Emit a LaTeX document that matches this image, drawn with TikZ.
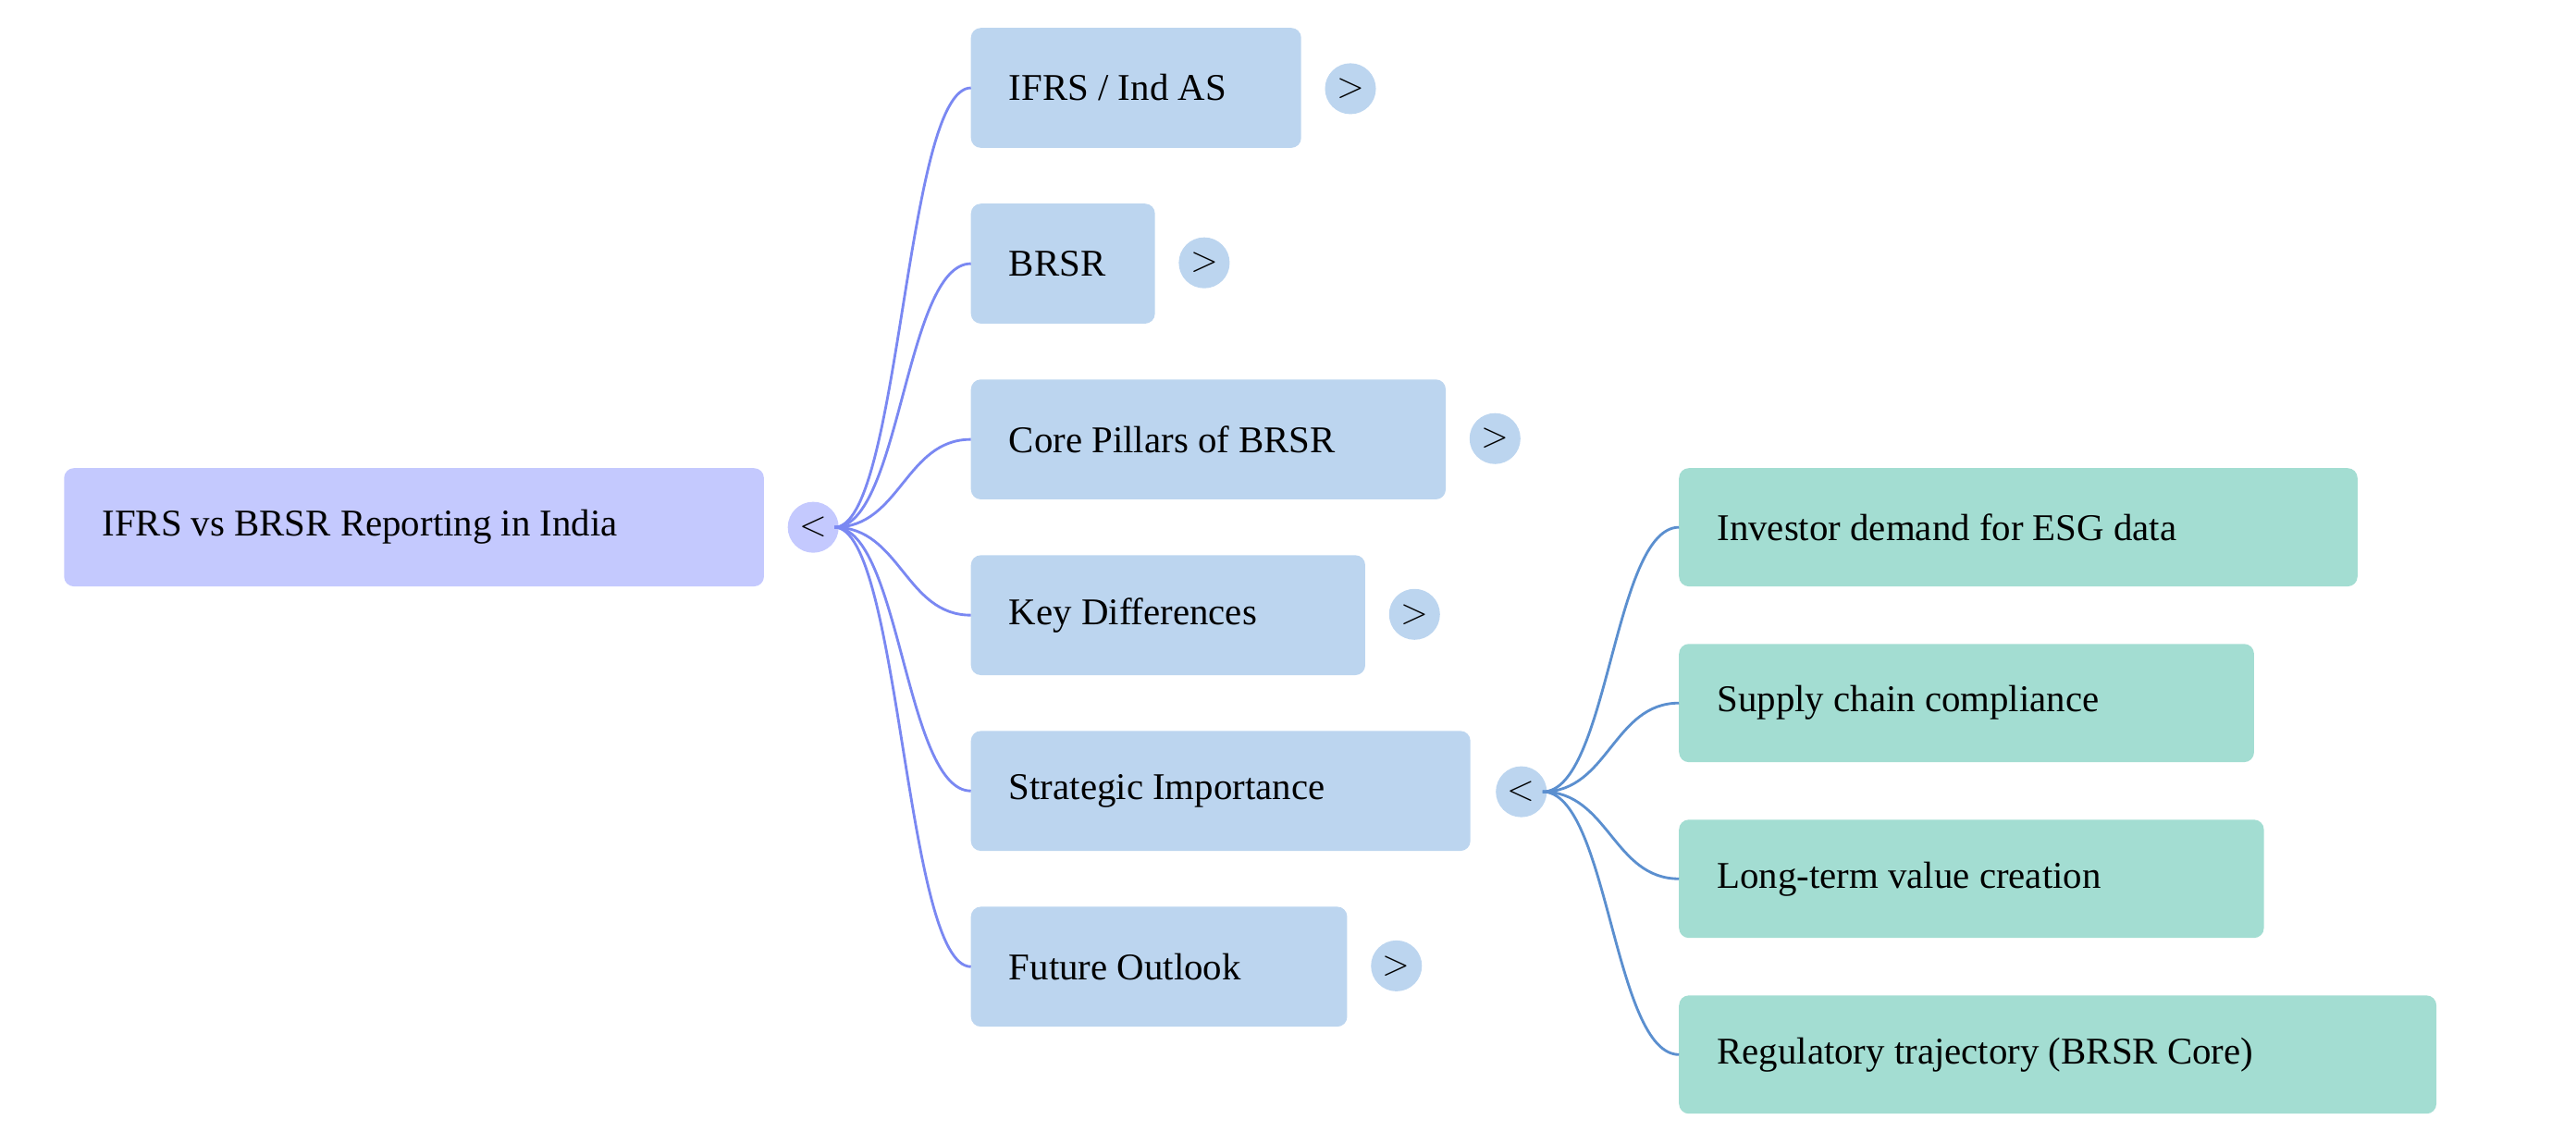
\documentclass[tikz,border=0pt]{standalone}
\usepackage{fontspec}
\setmainfont{Liberation Serif}
\definecolor{rootc}{HTML}{C4C9FE}
\definecolor{lonec}{HTML}{BCD5EF}
\definecolor{ltwoc}{HTML}{A3DDD2}
\definecolor{edgea}{HTML}{7A88F2}
\definecolor{edgeb}{HTML}{5B8FCF}
\tikzset{
  box/.style={rounded corners=6pt, inner sep=0pt, anchor=north west},
  lbl/.style={anchor=west, font=\fontsize{23}{26}\selectfont, inner sep=0pt},
  tog/.style={circle, minimum size=31pt, inner sep=0pt, font=\fontsize{22}{24}\selectfont\sffamily},
  conA/.style={edgea, line width=1.6pt},
  conB/.style={edgeb, line width=1.6pt}
}
\newcommand{\mybox}[7]{% name, x1,y1,x2,y2, color, text
  \fill[#6, rounded corners=6pt] (#2,#3) rectangle (#4,#5);
  \node[lbl] (#1) at (#2+23,{(#3+#5)/2}) {#7};
  \coordinate (#1L) at (#2,{(#3+#5)/2});
}
\begin{document}
\begin{tikzpicture}[x=1pt,y=-1pt]
\useasboundingbox (0,0) rectangle (1568,696);
% root
\mybox{root}{39}{285}{465}{357}{rootc}{IFRS vs BRSR Reporting in India}
\node[tog, fill=rootc] (rt) at (495,321) {<};
\coordinate (rto) at (508,321);
% level 1
\mybox{a}{591}{17}{792}{90}{lonec}{IFRS / Ind AS}
\mybox{b}{591}{124}{703}{197}{lonec}{BRSR}
\mybox{c}{591}{231}{880}{304}{lonec}{Core Pillars of BRSR}
\mybox{d}{591}{338}{831}{411}{lonec}{Key Differences}
\mybox{e}{591}{445}{895}{518}{lonec}{Strategic Importance}
\mybox{f}{591}{552}{820}{625}{lonec}{Future Outlook}
\node[tog, fill=lonec] (at) at (822,54) {>};
\node[tog, fill=lonec] (bt) at (733,160) {>};
\node[tog, fill=lonec] (ct) at (910,267) {>};
\node[tog, fill=lonec] (dt) at (861,374) {>};
\node[tog, fill=lonec] (et) at (926,482) {<};
\node[tog, fill=lonec] (ft) at (850,588) {>};
\coordinate (eto) at (939,482);
% level 2
\mybox{g}{1022}{285}{1435}{357}{ltwoc}{Investor demand for ESG data}
\mybox{h}{1022}{392}{1372}{464}{ltwoc}{Supply chain compliance}
\mybox{i}{1022}{499}{1378}{571}{ltwoc}{Long-term value creation}
\mybox{j}{1022}{606}{1483}{678}{ltwoc}{Regulatory trajectory (BRSR Core)}
% connectors
\foreach \n in {a,b,c,d,e,f}
  \draw[conA] (rto) .. controls +(40,0) and +(-40,0) .. (\n L);
\foreach \n in {g,h,i,j}
  \draw[conB] (eto) .. controls +(40,0) and +(-40,0) .. (\n L);
\end{tikzpicture}
\end{document}
